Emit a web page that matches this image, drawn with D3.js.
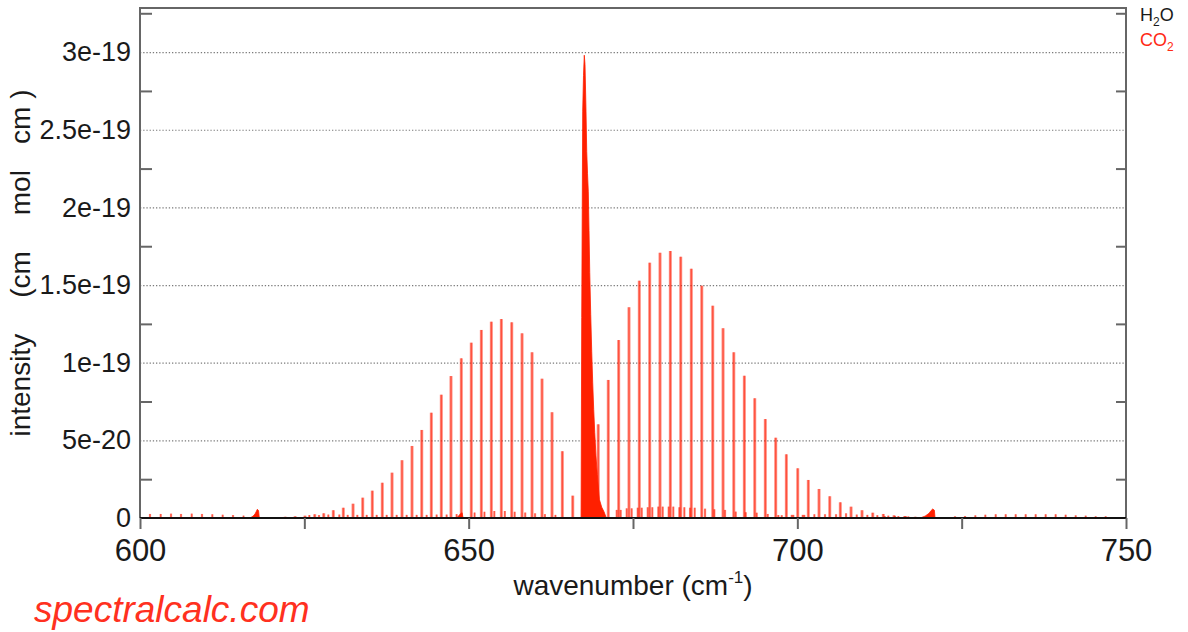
<!DOCTYPE html>
<html>
<head>
<meta charset="utf-8">
<script src="https://d3js.org/d3.v7.min.js"></script>
<style>
  body { margin: 0; background: #ffffff; }
  svg text { font-family: "Liberation Sans", Arial, sans-serif; }
</style>
</head>
<body>
<script>
// CO2 line list, intensities in units of 1e-19 cm^-1/(molecule cm^-2)

// P branch
var pBranchWn = [622.10, 623.60, 625.10, 626.58, 627.95, 629.41, 630.93, 632.41, 633.88, 635.34,
                 636.86, 638.34, 639.86, 641.38, 642.86, 644.32, 645.84, 647.31, 648.88, 650.40,
                 651.93, 653.45, 654.97, 656.55, 658.12, 659.64, 661.16, 662.68, 664.25, 665.83];
var pBranchInt = [0.008, 0.011, 0.015, 0.024, 0.030, 0.050, 0.066, 0.092, 0.131, 0.176,
                  0.227, 0.292, 0.372, 0.464, 0.567, 0.678, 0.794, 0.914, 1.028, 1.129,
                  1.211, 1.264, 1.281, 1.260, 1.189, 1.067, 0.897, 0.681, 0.430, 0.144];

// R branch
var rBranchWn = [669.71, 671.24, 672.82, 674.39, 675.96, 677.54, 679.11, 680.68, 682.26, 683.87,
                 685.46, 687.13, 688.70, 690.33, 691.94, 693.52, 695.13, 696.71, 698.33, 700.06,
                 701.67, 703.30, 704.93, 706.54, 708.17, 709.84, 711.47, 713.08, 714.71, 716.34, 717.95];
var rBranchInt = [0.603, 0.889, 1.146, 1.357, 1.528, 1.644, 1.708, 1.719, 1.683, 1.605,
                  1.496, 1.367, 1.222, 1.067, 0.916, 0.771, 0.637, 0.517, 0.410, 0.320,
                  0.245, 0.187, 0.140, 0.101, 0.073, 0.050, 0.034, 0.026, 0.017, 0.013, 0.008];

// Q branch envelope (dense lines)
var qBranchWn = [667.10, 667.20, 667.35, 667.47, 667.59, 667.70, 667.85, 667.96, 668.08, 668.20,
                 668.31, 668.42, 668.57, 668.72, 668.87, 669.02, 669.18, 669.37, 669.57, 669.88,
                 670.24, 670.59, 670.95];
var qBranchInt = [0, 1.29, 2.62, 2.85, 2.98, 2.92, 2.62, 2.36, 2.22, 2.10,
                  1.85, 1.58, 1.31, 1.07, 0.87, 0.70, 0.55, 0.40, 0.28, 0.12,
                  0.07, 0.04, 0];

// weak hot band Q branches
var hot618Wn = [616.74, 617.19, 617.50, 617.73, 617.85, 618.03, 618.15];
var hot618Int = [0, 0.012, 0.026, 0.045, 0.056, 0.048, 0];
var hot648Wn = [648.20, 648.70, 649.00, 649.15];
var hot648Int = [0, 0.025, 0.034, 0];
var hot721Wn = [718.67, 719.43, 720.04, 720.35, 720.60, 720.85, 720.95];
var hot721Int = [0, 0.012, 0.030, 0.048, 0.058, 0.050, 0];

// weak lines (wings + hot bands)
var weakWn = [601.52, 603.15, 604.72, 606.24, 607.87, 609.43, 611.00, 612.58, 614.15, 615.75,
              625.76, 627.23, 628.65, 630.32, 631.60, 633.06, 634.49, 636.01, 637.53,
              639.05, 640.57, 642.09, 643.61, 645.13, 646.65, 648.17,
              650.90, 652.40, 653.90, 655.50, 657.00, 658.60, 660.10, 661.60, 663.20,
              672.52, 673.13, 674.04, 674.80, 675.72, 676.33, 677.24, 677.94, 678.85, 679.52,
              680.43, 681.13, 682.05, 682.81, 683.68, 684.39, 685.96, 687.37, 689.00, 690.63,
              692.15, 693.82, 695.50, 697.11,
              697.63, 699.15, 699.39, 700.82, 701.06, 702.59, 704.21, 705.89, 707.41, 709.04,
              710.65, 712.17, 713.30, 713.84, 714.86, 715.37, 716.54, 716.89,
              723.99, 725.51, 727.08, 728.60, 730.18, 731.70, 733.22, 734.74, 736.26, 737.78,
              739.30, 740.82, 742.35, 743.87, 745.39, 746.91, 748.43];
var weakInt = [0.026, 0.026, 0.028, 0.026, 0.028, 0.026, 0.024, 0.021, 0.019, 0.015,
               0.019, 0.019, 0.022, 0.022, 0.020, 0.020, 0.020, 0.020, 0.020,
               0.020, 0.020, 0.020, 0.020, 0.022, 0.022, 0.025,
               0.035, 0.040, 0.045, 0.045, 0.040, 0.035, 0.030, 0.025, 0.020,
               0.052, 0.052, 0.062, 0.062, 0.066, 0.066, 0.069, 0.069, 0.073, 0.073,
               0.073, 0.073, 0.069, 0.069, 0.066, 0.066, 0.060, 0.056, 0.052, 0.041,
               0.037, 0.034, 0.026, 0.019,
               0.018, 0.020, 0.020, 0.020, 0.020, 0.024, 0.024, 0.024, 0.030, 0.022,
               0.020, 0.018, 0.012, 0.015, 0.012, 0.012, 0.010, 0.010,
               0.011, 0.013, 0.017, 0.021, 0.024, 0.024, 0.024, 0.024, 0.024, 0.024,
               0.024, 0.021, 0.017, 0.015, 0.011, 0.011, 0.006];

// axes
var xTickValues = [600, 625, 650, 675, 700, 725, 750];
var xTickLabels = ["600", "", "650", "", "700", "", "750"];
var yTickValues = [0, 0.5, 1, 1.5, 2, 2.5, 3];
var yTickLabels = ["0", "5e-20", "1e-19", "1.5e-19", "2e-19", "2.5e-19", "3e-19"];
var yMinorValues = [0.25, 0.75, 1.25, 1.75, 2.25, 2.75, 3.25];

var SVG_WIDTH = 1188;
var SVG_HEIGHT = 632;
var PLOT_LEFT = 140;
var PLOT_RIGHT = 1126;
var PLOT_TOP = 8;
var PLOT_BOTTOM = 518;
var LINE_COLOR = "#ff1a00";
var FRAME_COLOR = "#666666";

var svg, xScale, yScale;


function setupScales()
{
  xScale = d3.scaleLinear().domain([600, 750]).range([PLOT_LEFT, PLOT_RIGHT]);
  yScale = d3.scaleLinear().domain([0, 3.284]).range([PLOT_BOTTOM, PLOT_TOP]);
}


function setupGrid()
{
  var grid = svg.append("g")
                .attr("transform", "translate(" + PLOT_LEFT + ",0)")
                .call(d3.axisLeft(yScale)
                        .tickValues(yTickValues.slice(1))
                        .tickSize(-(PLOT_RIGHT - PLOT_LEFT))
                        .tickFormat(""));
  grid.select(".domain").remove();
  grid.selectAll("line")
      .style("stroke", "#7a7a7a")
      .style("stroke-width", 1.2)
      .style("stroke-dasharray", "1.3,1.9");
}


function drawSticks(wn, ints, outerWidth, innerWidth)
{
  var pairs = d3.zip(wn, ints);
  var g = svg.append("g");

  g.selectAll(".stick_outer")
   .data(pairs)
   .join("line")
   .attr("class", "stick_outer")
   .attr("x1", function(d) { return xScale(d[0]); })
   .attr("x2", function(d) { return xScale(d[0]); })
   .attr("y1", yScale(0))
   .attr("y2", function(d) { return yScale(d[1]); })
   .style("stroke", LINE_COLOR)
   .style("stroke-opacity", 0.5)
   .style("stroke-width", outerWidth);

  g.selectAll(".stick_inner")
   .data(pairs)
   .join("line")
   .attr("class", "stick_inner")
   .attr("x1", function(d) { return xScale(d[0]); })
   .attr("x2", function(d) { return xScale(d[0]); })
   .attr("y1", yScale(0))
   .attr("y2", function(d) { return yScale(d[1]); })
   .style("stroke", LINE_COLOR)
   .style("stroke-opacity", 0.55)
   .style("stroke-width", innerWidth);
}


function drawBand(wn, ints)
{
  var area = d3.area()
               .x(function(d) { return xScale(d[0]); })
               .y0(yScale(0))
               .y1(function(d) { return yScale(d[1]); });

  svg.append("path")
     .datum(d3.zip(wn, ints))
     .attr("d", area)
     .style("fill", "#ff2000")
     .style("stroke", "#ff2000")
     .style("stroke-width", 0.8);
}


function drawFrame()
{
  // left, top, right border
  svg.append("path")
     .attr("d", "M" + PLOT_LEFT + "," + PLOT_BOTTOM + "V" + PLOT_TOP + "H" + PLOT_RIGHT + "V" + PLOT_BOTTOM)
     .style("fill", "none")
     .style("stroke", FRAME_COLOR)
     .style("stroke-width", 2);

  // zero line
  svg.append("line")
     .attr("x1", PLOT_LEFT).attr("x2", PLOT_RIGHT)
     .attr("y1", yScale(0)).attr("y2", yScale(0))
     .style("stroke", "#111111")
     .style("stroke-width", 2);

  // x axis
  var xAxis = svg.append("g")
                 .attr("transform", "translate(0," + PLOT_BOTTOM + ")")
                 .call(d3.axisBottom(xScale)
                         .tickValues(xTickValues)
                         .tickSize(11)
                         .tickFormat(function(d, i) { return xTickLabels[i]; }));
  xAxis.select(".domain").remove();
  xAxis.selectAll("line").style("stroke", FRAME_COLOR).style("stroke-width", 2);
  xAxis.selectAll("text")
       .attr("y", 43)
       .attr("dy", null)
       .style("font-size", "31px")
       .style("fill", "#1a1a1a");

  // y axis labels
  var yAxis = svg.append("g")
                 .attr("transform", "translate(" + PLOT_LEFT + ",0)")
                 .call(d3.axisLeft(yScale)
                         .tickValues(yTickValues)
                         .tickSize(0)
                         .tickPadding(9)
                         .tickFormat(function(d, i) { return yTickLabels[i]; }));
  yAxis.select(".domain").remove();
  yAxis.selectAll("text")
       .style("font-size", "27px")
       .style("fill", "#1a1a1a");

  // minor ticks inside, both sides
  var leftMinor = svg.append("g")
                     .attr("transform", "translate(" + PLOT_LEFT + ",0)")
                     .call(d3.axisRight(yScale).tickValues(yMinorValues).tickSize(12).tickFormat(""));
  leftMinor.select(".domain").remove();
  leftMinor.selectAll("line").style("stroke", FRAME_COLOR).style("stroke-width", 2);

  var rightMinor = svg.append("g")
                      .attr("transform", "translate(" + PLOT_RIGHT + ",0)")
                      .call(d3.axisLeft(yScale).tickValues(yMinorValues).tickSize(10).tickFormat(""));
  rightMinor.select(".domain").remove();
  rightMinor.selectAll("line").style("stroke", FRAME_COLOR).style("stroke-width", 2);
}


function drawLabels()
{
  // x title
  var xTitle = svg.append("text")
                  .attr("x", (PLOT_LEFT + PLOT_RIGHT) / 2)
                  .attr("y", 595)
                  .attr("text-anchor", "middle")
                  .style("font-size", "28px")
                  .style("fill", "#1a1a1a");
  xTitle.append("tspan").text("wavenumber (cm");
  xTitle.append("tspan").attr("dy", -12).style("font-size", "17px").text("-1");
  xTitle.append("tspan").attr("dy", 12).text(")");

  // y title, superscripts are not shown in the original
  var yTitle = svg.append("text")
                  .attr("transform", "translate(30," + ((PLOT_TOP + PLOT_BOTTOM) / 2) + ") rotate(-90)")
                  .attr("text-anchor", "middle")
                  .style("font-size", "28px")
                  .style("fill", "#1a1a1a");
  yTitle.append("tspan").text("intensity");
  yTitle.append("tspan").attr("dx", 36).text("(cm");
  yTitle.append("tspan").attr("dx", 36).text("mol");
  yTitle.append("tspan").attr("dx", 26).text("cm");
  yTitle.append("tspan").attr("dx", 8).text(")");

  // legend
  var h2o = svg.append("text")
               .attr("x", 1140).attr("y", 21)
               .style("font-size", "18px")
               .style("fill", "#1a1a1a");
  h2o.append("tspan").text("H");
  h2o.append("tspan").attr("dy", 5).style("font-size", "12px").text("2");
  h2o.append("tspan").attr("dy", -5).text("O");

  var co2 = svg.append("text")
               .attr("x", 1140).attr("y", 46)
               .style("font-size", "18px")
               .style("fill", "#ff2a14");
  co2.append("tspan").text("CO");
  co2.append("tspan").attr("dy", 5).style("font-size", "12px").text("2");

  // watermark
  svg.append("text")
     .attr("x", 34).attr("y", 622)
     .style("font-size", "37px")
     .style("font-style", "italic")
     .style("fill", "#ff3020")
     .text("spectralcalc.com");
}


function initializeMainEnvironment()
{
  svg = d3.select("body").append("svg")
          .attr("width", SVG_WIDTH)
          .attr("height", SVG_HEIGHT);

  setupScales();
  setupGrid();
  drawSticks(weakWn, weakInt, 2.2, 1);
  drawBand(hot618Wn, hot618Int);
  drawBand(hot648Wn, hot648Int);
  drawBand(hot721Wn, hot721Int);
  drawSticks(pBranchWn, pBranchInt, 3, 1.2);
  drawSticks(rBranchWn, rBranchInt, 3, 1.2);
  drawBand(qBranchWn, qBranchInt);
  drawFrame();
  drawLabels();
}

initializeMainEnvironment();
</script>
</body>
</html>
